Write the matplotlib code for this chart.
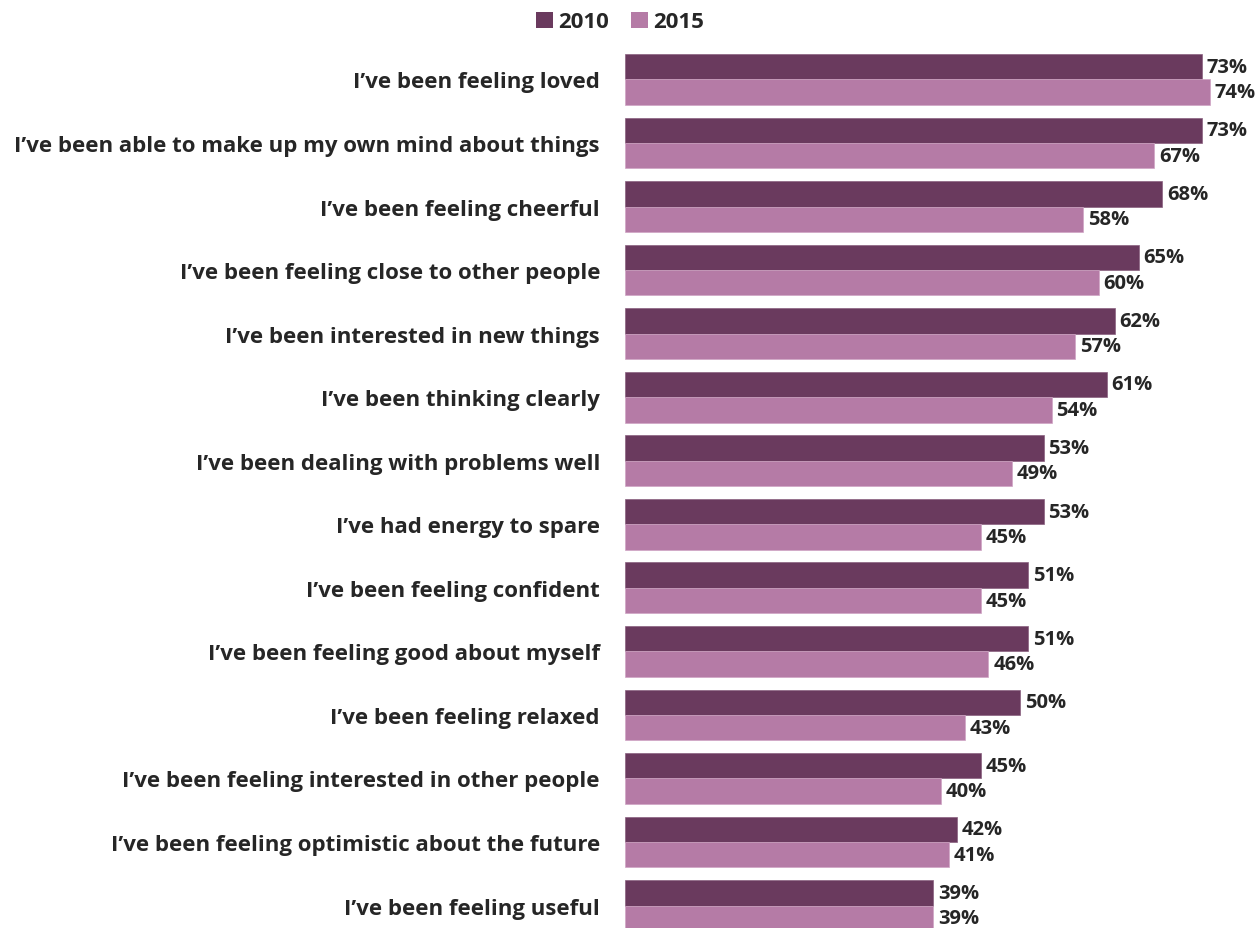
import matplotlib
matplotlib.use("Agg")
import matplotlib.pyplot as plt
from matplotlib.patches import Patch

categories = [
    "I\u2019ve been feeling loved",
    "I\u2019ve been able to make up my own mind about things",
    "I\u2019ve been feeling cheerful",
    "I\u2019ve been feeling close to other people",
    "I\u2019ve been interested in new things",
    "I\u2019ve been thinking clearly",
    "I\u2019ve been dealing with problems well",
    "I\u2019ve had energy to spare",
    "I\u2019ve been feeling confident",
    "I\u2019ve been feeling good about myself",
    "I\u2019ve been feeling relaxed",
    "I\u2019ve been feeling interested in other people",
    "I\u2019ve been feeling optimistic about the future",
    "I\u2019ve been feeling useful",
]
values_2010 = [73, 73, 68, 65, 62, 61, 53, 53, 51, 51, 50, 45, 42, 39]
values_2015 = [74, 67, 58, 60, 57, 54, 49, 45, 45, 46, 43, 40, 41, 39]
series_names = ["2010", "2015"]

c2010 = "#6A3A5E"
c2015 = "#B57BA6"
tc = "#262626"
FONT = "Open Sans"

W, H = 1255, 929
fig = plt.figure(figsize=(W / 100, H / 100), dpi=100)
ax = fig.add_axes([625 / W, (H - 932) / H, 1 - 625 / W, 877 / H])

n = len(categories)
ys = list(range(n))
bh = 0.4
ax.barh([y - bh / 2 for y in ys], values_2010, height=bh, color=c2010,
        edgecolor="#8a6080", linewidth=0.5)
ax.barh([y + bh / 2 for y in ys], values_2015, height=bh, color=c2015,
        edgecolor="#cfa5c4", linewidth=0.5)

for y, v in zip(ys, values_2010):
    ax.text(v + 0.6, y - bh / 2, f"{v}%", va="center", ha="left",
            fontsize=14.5, fontweight="bold", color=tc, family=FONT, clip_on=False)
for y, v in zip(ys, values_2015):
    ax.text(v + 0.6, y + bh / 2, f"{v}%", va="center", ha="left",
            fontsize=14.5, fontweight="bold", color=tc, family=FONT, clip_on=False)

ax.set_xlim(0, (W - 625) / 7.9)
ax.set_ylim(n - 1 + bh, -bh)
ax.set_yticks(ys)
ax.set_yticklabels(categories, fontsize=16, fontweight="bold", color=tc, family=FONT)
ax.tick_params(axis="y", length=0, pad=18)
ax.set_xticks([])
for s in ax.spines.values():
    s.set_visible(False)

handles = [Patch(facecolor=c2010, label=series_names[0]),
           Patch(facecolor=c2015, label=series_names[1])]
fig.legend(handles=handles, loc="center", bbox_to_anchor=(620 / W, 1 - 23 / H),
           ncol=2, frameon=False, prop={"family": FONT, "weight": "bold", "size": 16},
           handlelength=0.75, handleheight=0.75, handletextpad=0.25, columnspacing=1.0,
           labelcolor=tc)

fig.savefig("out.png", dpi=100)
